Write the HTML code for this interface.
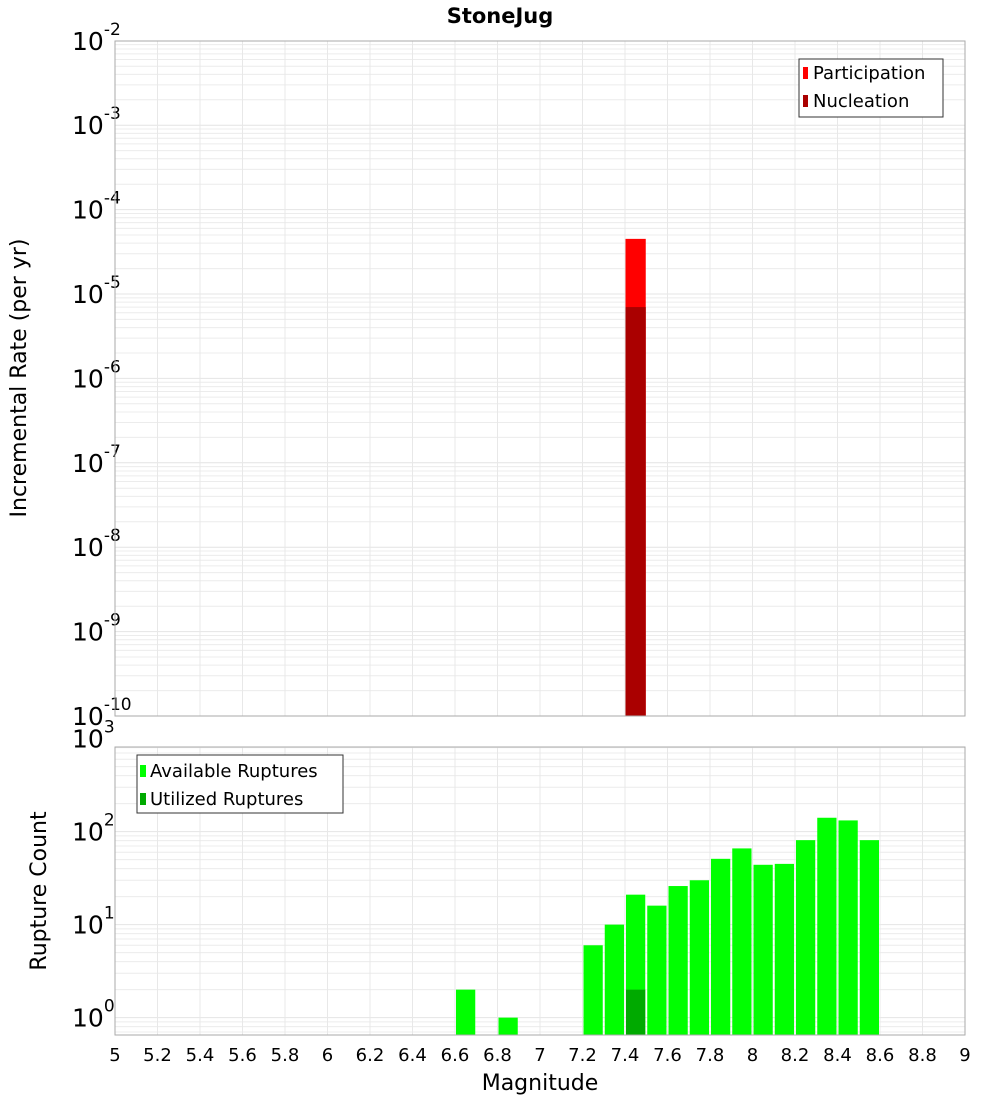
<!DOCTYPE html>
<html><head><meta charset="utf-8"><style>
body{margin:0;background:#fff;}
svg{display:block;font-family:"DejaVu Sans","Liberation Sans",sans-serif;}
</style></head><body>
<svg id="chart" width="1000" height="1100">
<text x="500" y="23" text-anchor="middle" font-weight="bold" font-size="21">StoneJug</text>
<g id="topPlot"></g>
<g id="botPlot"></g>
<text transform="translate(26,378) rotate(-90)" text-anchor="middle" font-size="22">Incremental Rate (per yr)</text>
<text transform="translate(46,891) rotate(-90)" text-anchor="middle" font-size="22">Rupture Count</text>
<text x="540" y="1090" text-anchor="middle" font-size="22">Magnitude</text>
</svg>
<script>
const xTicks=[5,5.2,5.4,5.6,5.8,6,6.2,6.4,6.6,6.8,7,7.2,7.4,7.6,7.8,8,8.2,8.4,8.6,8.8,9];
const partMags=[7.4];
const partRates=[4.5e-5];
const nuclMags=[7.4];
const nuclRates=[7e-6];
const availMags=[6.6,6.8,7.2,7.3,7.4,7.5,7.6,7.7,7.8,7.9,8.0,8.1,8.2,8.3,8.4,8.5];
const availCounts=[2,1,6,10,21,16,26,30,51,66,44,45,81,141,132,81];
const utilMags=[7.4];
const utilCounts=[2];
const NS="http://www.w3.org/2000/svg";
const X0=115,X1=965;
const sx=m=>X0+(m-5)/4*(X1-X0);
function mk(p,t,a){const e=document.createElementNS(NS,t);for(const k in a)e.setAttribute(k,a[k]);p.appendChild(e);return e;}
function panel(g,yTop,yBot,lmin,lmax,yb,decPx){
  const sy=v=>yb-(Math.log10(v)-lmin)*decPx;
  for(let d=Math.floor(lmin);d<lmax;d++){for(let k=1;k<10;k++){const v=k*Math.pow(10,d);const y=sy(v);if(y<yTop-0.5||y>yBot+0.5)continue;
    const l=mk(g,'line',{x1:X0,x2:X1,y1:y,y2:y,stroke:k==1?'#e4e4e4':'#ececec','stroke-width':1});
    
    }}
  xTicks.forEach(t=>{const x=sx(t);const l=mk(g,'line',{x1:x,x2:x,y1:yTop,y2:yBot,stroke:'#e8e8e8'});
    
    });
  for(let d=Math.ceil(lmin);d<=lmax;d++){const y=sy(Math.pow(10,d));
    const t=mk(g,'text',{x:72,y:y+9,'font-size':25});
    
    
    t.textContent='10';
    const s=mk(t,'tspan',{dy:-15,'font-size':17});s.textContent=String(d);}
  return sy;
}
const gTop=document.getElementById('topPlot'),gBot=document.getElementById('botPlot');
const syT=panel(gTop,41,716,-10,-2,716,84.4);
const bw=(X1-X0)/40;
partMags.forEach((m,i)=>{const y=syT(partRates[i]);const r=mk(gTop,'rect',{x:sx(m)+0.5,y:y,width:bw-1,height:716-y,fill:'#ff0000'});
  
  });
nuclMags.forEach((m,i)=>{const y=syT(nuclRates[i]);const r=mk(gTop,'rect',{x:sx(m)+0.5,y:y,width:bw-1,height:716-y,fill:'#aa0000'});
  
  });
mk(gTop,'rect',{x:X0,y:41,width:X1-X0,height:675,fill:'none',stroke:'#aaa'});
const lg=mk(gTop,'g',{});


mk(lg,'rect',{x:799,y:59,width:144,height:58,fill:'#fff',stroke:'#333'});
mk(lg,'rect',{x:803,y:67,width:5,height:12,fill:'#ff0000'});
mk(lg,'rect',{x:803,y:95,width:5,height:12,fill:'#aa0000'});
let t=mk(lg,'text',{x:813,y:79,'font-size':18});t.textContent='Participation';
t=mk(lg,'text',{x:813,y:107,'font-size':18});t.textContent='Nucleation';

const syB=panel(gBot,747,1035,-0.09,3,1026,93);
availMags.forEach((m,i)=>{const y=syB(availCounts[i]);const r=mk(gBot,'rect',{x:sx(m)+1,y:y,width:bw-2,height:1035-y,fill:'#00ff00'});
  
  });
utilMags.forEach((m,i)=>{const y=syB(utilCounts[i]);const r=mk(gBot,'rect',{x:sx(m)+1,y:y,width:bw-2,height:1035-y,fill:'#00aa00'});
  
  });
mk(gBot,'rect',{x:X0,y:747,width:X1-X0,height:288,fill:'none',stroke:'#aaa'});
xTicks.forEach(v=>{const tx=mk(gBot,'text',{x:sx(v),y:1061,'text-anchor':'middle','font-size':18});
  
  
  tx.textContent=String(v);});
const lg2=mk(gBot,'g',{});


mk(lg2,'rect',{x:137,y:755,width:206,height:58,fill:'#fff',stroke:'#333'});
mk(lg2,'rect',{x:140,y:765,width:6,height:12,fill:'#00ff00'});
mk(lg2,'rect',{x:140,y:793,width:6,height:12,fill:'#00aa00'});
t=mk(lg2,'text',{x:150,y:777,'font-size':18});t.textContent='Available Ruptures';
t=mk(lg2,'text',{x:150,y:805,'font-size':18});t.textContent='Utilized Ruptures';
</script>
</body></html>
